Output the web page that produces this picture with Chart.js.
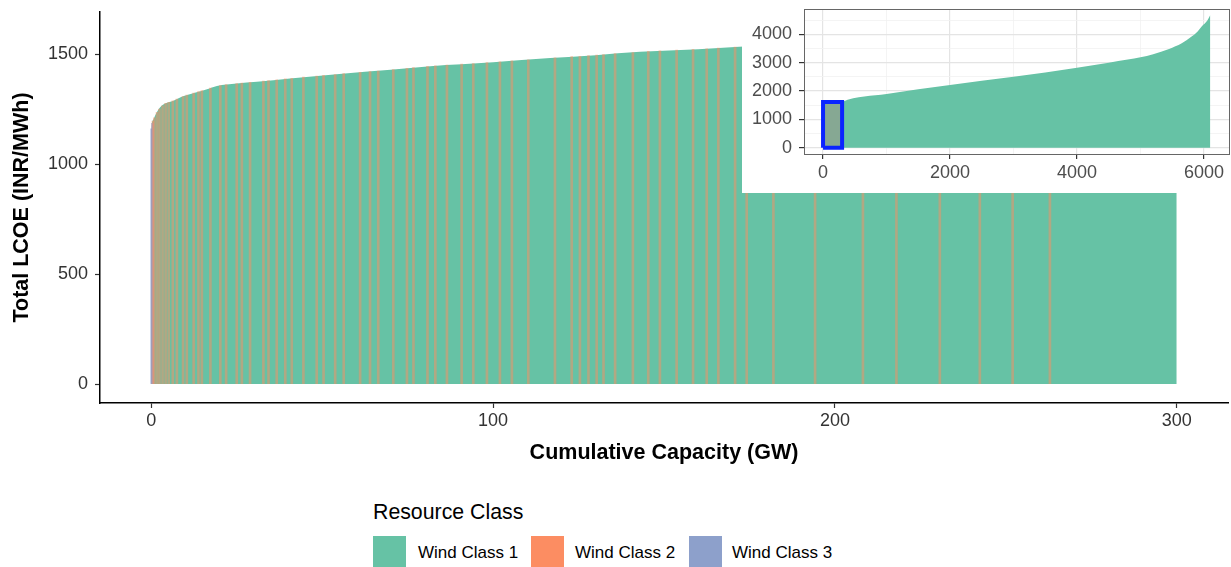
<!DOCTYPE html>
<html>
<head>
<meta charset="utf-8">
<script src="https://cdn.jsdelivr.net/npm/chart.js@4.4.1/dist/chart.umd.min.js"></script>
<style>
  body { margin: 0; width: 1231px; height: 567px; background: #fff; position: relative; overflow: hidden;
         font-family: "Liberation Sans", Arial, sans-serif; }
  #mainBox { position: absolute; left: 0; top: 0; width: 1231px; height: 480px; }
  #insetBox { position: absolute; left: 742px; top: 0; width: 489px; height: 193px; background: #fff; }
  #legendTitle { position: absolute; left: 373px; top: 499px; font-size: 21.3px; line-height: 26px; color: #000; }
  .key { position: absolute; top: 536px; width: 33px; height: 33px; }
  .keyLabel { position: absolute; top: 543px; font-size: 17px; line-height: 20px; color: #000; }
</style>
</head>
<body>
<div id="mainBox"><canvas id="mainChart"></canvas></div>
<div id="insetBox"><canvas id="insetChart"></canvas></div>
<div id="legendTitle">Resource Class</div>
<div id="legendItems"></div>

<script>
// resource classes (legend)
const classNames = ["Wind Class 1", "Wind Class 2", "Wind Class 3"];
const classColors = ["#66c2a5", "#fc8d62", "#8da0cb"];

// main supply curve (first 300 GW): cumulative capacity (GW) and total LCOE (INR/MWh)
const capacity = [0, 0.2, 0.7, 1.5, 2.6, 4, 6.5, 9.5, 13, 16.3, 19.2, 25, 30.9, 40.6, 55, 70,
                  81.6, 100, 116.7, 130, 143, 160, 172, 200, 230, 260, 300];
const lcoe = [1150, 1185, 1205, 1232, 1258, 1275, 1288, 1309, 1325, 1340, 1355, 1366, 1374, 1389, 1409, 1428,
              1445, 1463, 1482, 1495, 1510, 1522, 1533, 1552, 1570, 1588, 1608];

// Wind Class 2 sites showing as thin stripes (position GW, LCOE)
const class2Cap = [0.5, 0.9, 1.7, 2.4, 3.3, 4.2, 5.1, 6.3, 7.5, 9.3, 10.4, 12.4, 13.8, 14.8, 17.3, 20.2, 21.9,
                   25.0, 26.5, 28.9, 32.8, 34.3, 36.7, 39.2, 41.1, 44.5, 48.4, 50.4, 53.8, 56.3, 61.1, 64.0,
                   66.4, 70.8, 74.8, 76.7, 80.8, 83.1, 86.5, 90.8, 94.2, 98.2, 102.0, 105.5, 110.3, 118.1,
                   123.0, 125.4, 127.9, 130.3, 132.3, 135.7, 140.9, 145.4, 148.8, 153.7, 158.5, 162.5, 165.9,
                   170.8, 174.2, 182, 194.2, 208.2, 218, 230.7, 242.4, 252, 262.9];
const class2Lcoe = [1195, 1210, 1235, 1250, 1265, 1276, 1280, 1287, 1295, 1307, 1313, 1322, 1329, 1334, 1345, 1357, 1361,
                    1366, 1368, 1371, 1377, 1379, 1383, 1387, 1390, 1395, 1400, 1403, 1407, 1411, 1417, 1420,
                    1423, 1429, 1435, 1438, 1444, 1446, 1450, 1454, 1457, 1461, 1465, 1469, 1474, 1483,
                    1488, 1490, 1493, 1495, 1497, 1502, 1507, 1512, 1514, 1518, 1521, 1524, 1527,
                    1532, 1534, 1539, 1548, 1557, 1562, 1570, 1578, 1583, 1590];

// Wind Class 3 sites (cheapest blocks at the left edge)
const class3Cap = [0.1, 0.35];
const class3Lcoe = [1160, 1185];

// inset: the whole curve
const insetCapacity = [0, 300, 1000, 2000, 3000, 4000, 4500, 4800, 5000, 5200, 5450, 5650, 5800, 5900, 5970, 6050, 6100];
const insetLcoe = [1150, 1610, 1890, 2210, 2500, 2820, 3000, 3110, 3190, 3300, 3480, 3680, 3910, 4100, 4290, 4480, 4680];

// zoom box drawn in the inset (outline of the main panel's range)
const boxCap = [0, 0, 300, 300, 0];
const boxLcoe = [0, 1610, 1610, 0, 0];

// tick values
const mainXTicks = [0, 100, 200, 300];
const mainYTicks = [0, 500, 1000, 1500];
const insetXTicks = [0, 1000, 2000, 3000, 4000, 5000, 6000];
const insetYTicks = [0, 500, 1000, 1500, 2000, 2500, 3000, 3500, 4000, 4500];

const pts = (xs, ys) => xs.map((x, i) => ({ x: x, y: ys[i] }));
Chart.defaults.font.family = "'Liberation Sans', Arial, sans-serif";
Chart.defaults.animation = false;

// scales should not reserve room for half tick labels at their ends
const noEdgePad = s => { s.paddingTop = 0; s.paddingBottom = 0; s.paddingLeft = 0; s.paddingRight = 0; };

// ---- main chart ----
new Chart(document.getElementById("mainChart"), {
  type: "bar",
  data: {
    datasets: [
      { type: "line", label: classNames[0], data: pts(capacity, lcoe), fill: "origin",
        backgroundColor: classColors[0], borderWidth: 0, pointRadius: 0,
        cubicInterpolationMode: "monotone", order: 3 },
      { type: "bar", label: classNames[1], data: pts(class2Cap, class2Lcoe), backgroundColor: "rgba(252,141,98,0.5)",
        barThickness: 2, grouped: false, order: 1 },
      { type: "bar", label: classNames[2], data: pts(class3Cap, class3Lcoe), backgroundColor: classColors[2],
        barThickness: 1.5, grouped: false, order: 1 }
    ]
  },
  options: {
    responsive: true,
    maintainAspectRatio: false,
    layout: { padding: { top: 12, right: 3, left: 0, bottom: 0 } },
    plugins: { legend: { display: false }, tooltip: { enabled: false } },
    scales: {
      x: {
        type: "linear", min: -15, max: 315, offset: false,
        afterBuildTicks: s => { s.ticks = mainXTicks.map(v => ({ value: v })); },
        afterFit: s => { s.height = 77; noEdgePad(s); },
        grid: { display: true, drawOnChartArea: false, offset: false, tickLength: 5, tickColor: "#333", tickWidth: 1.2 },
        border: { color: "#000", width: 1.5 },
        ticks: { color: "#333", font: { size: 18 }, padding: 2, maxRotation: 0, autoSkip: false,
                 callback: v => String(v) },
        title: { display: true, text: "Cumulative Capacity (GW)", color: "#000",
                 font: { size: 21.5, weight: "bold" }, padding: { top: 0, bottom: 14 } }
      },
      y: {
        min: -86, max: 1691,
        afterBuildTicks: s => { s.ticks = mainYTicks.map(v => ({ value: v })); },
        afterFit: s => { s.width = 100; noEdgePad(s); },
        grid: { display: true, drawOnChartArea: false, tickLength: 5, tickColor: "#333", tickWidth: 1.2 },
        border: { color: "#000", width: 1.5 },
        ticks: { color: "#333", font: { size: 18 }, padding: 7, callback: v => String(v) },
        title: { display: true, text: "Total LCOE (INR/MWh)", color: "#000",
                 font: { size: 21.5, weight: "bold" }, padding: { top: 9, bottom: 0 } }
      }
    }
  }
});

// ---- inset chart ----
const panelBorder = {
  id: "panelBorder",
  afterDraw(chart) {
    const a = chart.chartArea, ctx = chart.ctx;
    ctx.save();
    ctx.strokeStyle = "#666";
    ctx.lineWidth = 1;
    ctx.strokeRect(a.left + 0.5, a.top + 0.5, a.right - a.left - 1, a.bottom - a.top);
    ctx.restore();
  }
};

const isMajor = (c, step) => c.tick && c.tick.value % step === 0;

new Chart(document.getElementById("insetChart"), {
  type: "line",
  data: {
    datasets: [
      { data: pts(insetCapacity, insetLcoe), fill: "origin", backgroundColor: classColors[0],
        borderWidth: 0, pointRadius: 0, cubicInterpolationMode: "monotone", order: 3 },
      { data: pts([0, 300], [1610, 1610]), fill: "origin", backgroundColor: "#86a893",
        borderWidth: 0, pointRadius: 0, order: 2 },
      { data: pts(boxCap, boxLcoe), fill: false, borderColor: "#0a24ff", borderWidth: 4,
        pointRadius: 0, tension: 0, order: 1 }
    ]
  },
  options: {
    responsive: true,
    maintainAspectRatio: false,
    layout: { padding: { top: 9, right: 1, left: 0, bottom: 0 } },
    plugins: { legend: { display: false }, tooltip: { enabled: false } },
    scales: {
      x: {
        type: "linear", min: -300, max: 6410,
        afterBuildTicks: s => { s.ticks = insetXTicks.map(v => ({ value: v })); },
        afterFit: s => { s.height = 39; noEdgePad(s); },
        grid: {
          color: c => isMajor(c, 2000) ? "#e4e4e4" : "#f1f1f1",
          lineWidth: c => isMajor(c, 2000) ? 1.2 : 0.8,
          tickColor: c => isMajor(c, 2000) ? "#333" : "rgba(0,0,0,0)",
          tickLength: 5
        },
        border: { display: false },
        ticks: { color: "#4d4d4d", font: { size: 18 }, padding: 3, maxRotation: 0, autoSkip: false,
                 callback: v => (v % 2000 === 0 ? String(v) : "") }
      },
      y: {
        min: -222, max: 4892,
        afterBuildTicks: s => { s.ticks = insetYTicks.map(v => ({ value: v })); },
        afterFit: s => { s.width = 62; noEdgePad(s); },
        grid: {
          color: c => isMajor(c, 1000) ? "#e4e4e4" : "#f1f1f1",
          lineWidth: c => isMajor(c, 1000) ? 1.2 : 0.8,
          tickColor: c => isMajor(c, 1000) ? "#333" : "rgba(0,0,0,0)",
          tickLength: 5
        },
        border: { display: false },
        ticks: { color: "#4d4d4d", font: { size: 18 }, padding: 7, autoSkip: false,
                 callback: v => (v % 1000 === 0 ? String(v) : "") }
      }
    }
  },
  plugins: [panelBorder]
});

// ---- legend ----
const keyLeft = [373, 531, 689];
const labelLeft = [418, 575, 732];
const legendItems = document.getElementById("legendItems");
classNames.forEach((name, i) => {
  const k = document.createElement("div");
  k.className = "key";
  k.style.left = keyLeft[i] + "px";
  k.style.background = classColors[i];
  legendItems.appendChild(k);
  const t = document.createElement("div");
  t.className = "keyLabel";
  t.style.left = labelLeft[i] + "px";
  t.textContent = name;
  legendItems.appendChild(t);
});
</script>
</body>
</html>
